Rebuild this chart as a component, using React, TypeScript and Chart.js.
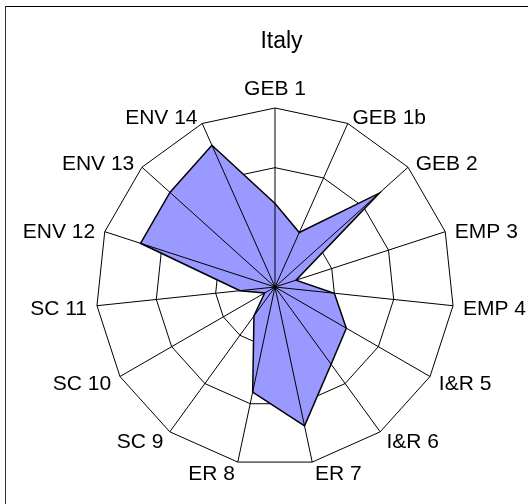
import React, { useEffect, useRef } from 'react';
import { Chart, registerables } from 'chart.js';

Chart.register(...registerables);

// ---- data ----
const TITLE = 'Italy';
const CATEGORIES = [
  'GEB 1', 'GEB 1b', 'GEB 2', 'EMP 3', 'EMP 4', 'I&R 5', 'I&R 6', 'ER 7',
  'ER 8', 'SC 9', 'SC 10', 'SC 11', 'ENV 12', 'ENV 13', 'ENV 14',
];
const ITALY_VALUES = [1.4, 1.0, 2.35, 0.37, 1.0, 1.38, 1.6, 2.38, 1.8, 0.6, 0.2, 0.59, 2.37, 2.37, 2.6];
const SCALE_MIN = 0;
const SCALE_MAX = 3;
const SCALE_STEP = 1;

const FONT = "'Liberation Sans', Arial, sans-serif";
const LABEL_SIZE = 21;

// Draws the spokes over the filled area and the category labels (Excel style)
const excelRadarOverlay = {
  id: 'excelRadarOverlay',
  afterDatasetsDraw(chart: any) {
    const scale = chart.scales.r;
    const ctx = chart.ctx as CanvasRenderingContext2D;
    const labels = chart.data.labels as string[];
    const n = labels.length;
    ctx.save();
    ctx.strokeStyle = '#000000';
    ctx.lineWidth = 1;
    for (let i = 0; i < n; i++) {
      const p = scale.getPointPosition(i, scale.drawingArea);
      ctx.beginPath();
      ctx.moveTo(scale.xCenter, scale.yCenter);
      ctx.lineTo(p.x, p.y);
      ctx.stroke();
    }
    ctx.fillStyle = '#000000';
    ctx.font = `${LABEL_SIZE}px ${FONT}`;
    for (let i = 0; i < n; i++) {
      const p = scale.getPointPosition(i, scale.drawingArea + 9);
      const deg = (360 * i) / n;
      const text = String(labels[i]);
      if (deg === 0) {
        ctx.textAlign = 'center';
        ctx.textBaseline = 'alphabetic';
        ctx.fillText(text, p.x, p.y - 4);
      } else if (deg < 180) {
        ctx.textAlign = 'left';
        ctx.textBaseline = 'middle';
        ctx.fillText(text, p.x + 1, p.y + 3);
      } else {
        ctx.textAlign = 'right';
        ctx.textBaseline = 'middle';
        ctx.fillText(text, p.x - 1, p.y + 3);
      }
    }
    ctx.restore();
  },
};

export default function App() {
  const canvasRef = useRef<HTMLCanvasElement | null>(null);

  useEffect(() => {
    if (!canvasRef.current) return;
    const chart = new Chart(canvasRef.current, {
      type: 'radar',
      data: {
        labels: CATEGORIES,
        datasets: [
          {
            label: TITLE,
            data: ITALY_VALUES,
            backgroundColor: '#9999FF',
            borderColor: '#000000',
            borderWidth: 1.5,
            pointRadius: 0,
            pointHoverRadius: 0,
            fill: true,
            tension: 0,
          },
        ],
      },
      options: {
        responsive: false,
        maintainAspectRatio: false,
        animation: false,
        events: [],
        layout: { padding: { left: 96, right: 74, top: 108, bottom: 38 } },
        plugins: {
          legend: { display: false },
          title: { display: false },
          tooltip: { enabled: false },
        },
        scales: {
          r: {
            min: SCALE_MIN,
            max: SCALE_MAX,
            ticks: { display: false, stepSize: SCALE_STEP },
            grid: { color: '#000000', lineWidth: 1, circular: false },
            angleLines: { display: false },
            pointLabels: { display: false },
          },
        },
      },
      plugins: [excelRadarOverlay],
    });
    return () => chart.destroy();
  }, []);

  return (
    <div
      style={{
        position: 'fixed',
        left: 0,
        top: 0,
        width: 528,
        height: 504,
        overflow: 'hidden',
        background: '#ffffff',
      }}
    >
      <div
        style={{
          position: 'absolute',
          left: 5,
          top: 6,
          width: 700,
          height: 700,
          borderTop: '1.5px solid #000000',
          borderLeft: '1.5px solid #333333',
        }}
      />
      <canvas
        ref={canvasRef}
        width={528}
        height={504}
        style={{ position: 'absolute', left: 0, top: 0, width: 528, height: 504 }}
      />
      <div
        style={{
          position: 'absolute',
          left: 0,
          top: 29,
          width: 563,
          textAlign: 'center',
          fontFamily: FONT,
          fontSize: 23,
          lineHeight: '23px',
          color: '#000000',
        }}
      >
        {TITLE}
      </div>
    </div>
  );
}
